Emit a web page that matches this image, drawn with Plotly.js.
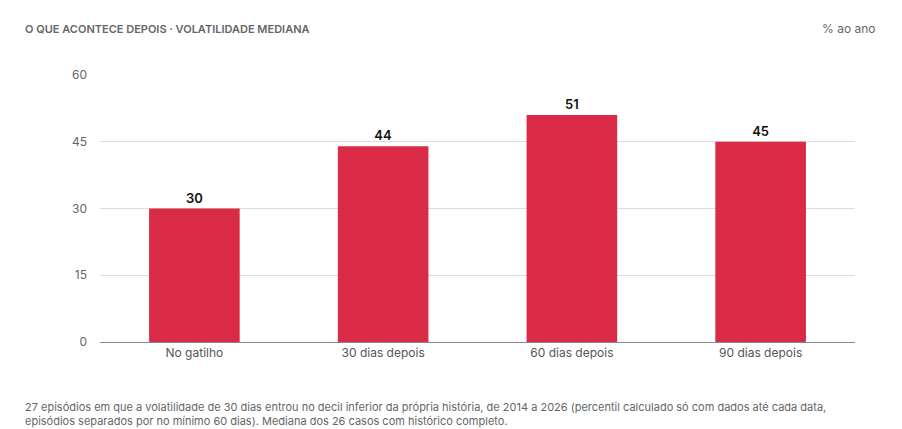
<!DOCTYPE html>
<html>
<head>
<meta charset="utf-8">
<script src="https://cdn.plot.ly/plotly-3.0.1.min.js"></script>
<style>
  body { margin: 0; background: #fff; }
  #chart { width: 902px; height: 429px; }
  .annotation:first-child text { letter-spacing: 1.3px; }
</style>
</head>
<body>
<div id="chart"></div>
<script>
  const categories = ['No gatilho', '30 dias depois', '60 dias depois', '90 dias depois'];
  const values = [30, 44, 51, 45];
  const tickVals = [0, 15, 30, 45, 60];

  const trace = {
    x: categories,
    y: values,
    type: 'bar',
    width: 0.48,
    marker: { color: '#d92b45' },
    text: values.map(String),
    textposition: 'outside',
    textfont: { family: 'Inter', size: 13, color: '#111', weight: 600 },
    cliponaxis: false,
    hoverinfo: 'skip'
  };

  const layout = {
    width: 902,
    height: 429,
    margin: { l: 100, r: 47, t: 75, b: 87 },
    paper_bgcolor: '#fff',
    plot_bgcolor: '#fff',
    font: { family: 'Inter', color: '#666' },
    showlegend: false,
    xaxis: {
      showgrid: false,
      showline: true,
      linecolor: '#888',
      linewidth: 1,
      tickfont: { size: 12, color: '#555' },
      ticks: ''
    },
    yaxis: {
      range: [0, 60],
      tickvals: tickVals,
      gridcolor: '#dcdcdc',
      zeroline: false,
      tickfont: { size: 12, color: '#666' },
      ticklabelstandoff: 12
    },
    annotations: [
      {
        text: 'O QUE ACONTECE DEPOIS · VOLATILIDADE MEDIANA',
        xref: 'paper', yref: 'paper', x: -0.1, y: 1.2, xanchor: 'left', yanchor: 'middle',
        xshift: -2, yshift: -7,
        showarrow: false,
        font: { family: 'Inter', size: 11, color: '#666', weight: 600 }
      },
      {
        text: '% ao ano',
        xref: 'paper', yref: 'paper', x: 1.03, y: 1.2, xanchor: 'right', yanchor: 'middle',
        yshift: -7,
        showarrow: false,
        font: { family: 'Inter', size: 12, color: '#666' }
      },
      {
        text: '27 episódios em que a volatilidade de 30 dias entrou no decil inferior da própria história, de 2014 a 2026 (percentil calculado só com dados até cada data,<br>episódios separados por no mínimo 60 dias). Mediana dos 26 casos com histórico completo.',
        xref: 'paper', yref: 'paper', x: -0.1, y: -0.23, xanchor: 'left', yanchor: 'top',
        xshift: -2, yshift: 5,
        align: 'left',
        showarrow: false,
        font: { family: 'Inter', size: 11, color: '#666' }
      }
    ]
  };

  Plotly.newPlot('chart', [trace], layout, { displayModeBar: false });
</script>
</body>
</html>
